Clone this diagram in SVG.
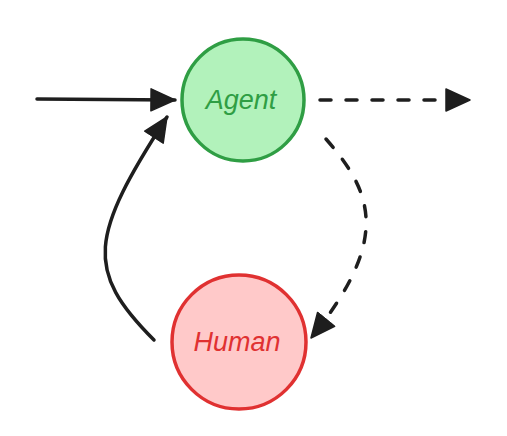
<svg xmlns="http://www.w3.org/2000/svg" width="507" height="436" viewBox="0 0 507 436">
<defs>
<marker id="ah" viewBox="0 0 26 24" refX="25" refY="12" markerWidth="26" markerHeight="24" markerUnits="userSpaceOnUse" orient="auto">
<path d="M1,1 L25,12 L1,23 Z" fill="#1e1e1e" stroke="#1e1e1e" stroke-width="1.5" stroke-linejoin="round"/>
</marker>
<style>
.edge{fill:none;stroke:#1e1e1e;stroke-width:3.5;stroke-linecap:round}
.dash{stroke-dasharray:11 15}
.lbl{font-family:"Liberation Sans","DejaVu Sans",sans-serif;font-style:italic;font-size:27px;text-anchor:middle}
</style>
</defs>
<rect width="507" height="436" fill="#ffffff"/>
<g id="agent">
<circle cx="243" cy="100" r="61" fill="#b2f2bb" stroke="#2f9e44" stroke-width="3.5"/>
<text class="lbl" x="241" y="109" fill="#2f9e44">Agent</text>
</g>
<g id="human">
<circle cx="239" cy="342" r="67" fill="#ffc9c9" stroke="#e03131" stroke-width="3.5"/>
<text class="lbl" x="237" y="351" fill="#e03131">Human</text>
</g>
<g id="connectors">
<path class="edge" d="M37,99 L175,100" marker-end="url(#ah)"/>
<path class="edge dash" d="M320,100 L470,100" marker-end="url(#ah)"/>
<path class="edge" d="M154,340 C84,270 90,236 167,117" marker-end="url(#ah)"/>
<path class="edge dash" d="M326,139 C372,192 392,238 311,338" marker-end="url(#ah)"/>
</g>
</svg>
